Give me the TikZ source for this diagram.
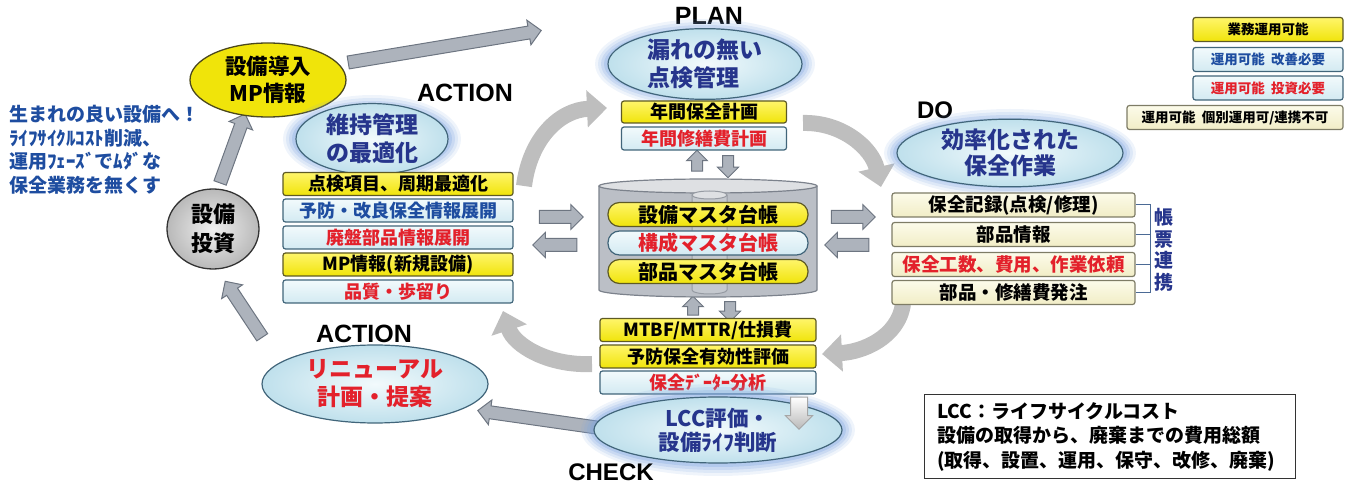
\documentclass[tikz,border=0pt]{standalone}
\usepackage{fontspec}
\setmainfont{Noto Sans CJK JP}
\newfontfamily\lat{Liberation Sans}
\usetikzlibrary{shapes.geometric,shapes.arrows,arrows.meta,calc}
\definecolor{yel}{HTML}{F0E40A}
\definecolor{yelt}{HTML}{FFF56A}
\definecolor{yeldk}{HTML}{5E5A24}
\definecolor{lb}{HTML}{D3EAF2}
\definecolor{lbt}{HTML}{F2FAFC}
\definecolor{lbdk}{HTML}{41657A}
\definecolor{cream}{HTML}{F1EDC6}
\definecolor{creamt}{HTML}{FCFBEA}
\definecolor{creamdk}{HTML}{7E7C66}
\definecolor{navy}{HTML}{26358C}
\definecolor{jred}{HTML}{E3212B}
\definecolor{bluet}{HTML}{1E4DA0}
\definecolor{arcg}{HTML}{BEBEBE}
\definecolor{arrf}{HTML}{ADB3BC}
\definecolor{arrd}{HTML}{6D7581}
\definecolor{glow}{HTML}{7FA6E0}
\definecolor{cylf}{HTML}{BBBFC6}
\definecolor{cylt}{HTML}{DEE0E3}
\definecolor{cyld}{HTML}{7C828C}
\definecolor{brk}{HTML}{4B6A95}
\definecolor{ellout}{HTML}{BFE0EC}
\newcommand\fsz[2]{\fontsize{#1pt}{#2pt}\selectfont}
\newcommand\blockarr[3][]{\path let \p1=($(#3)-(#2)$), \n1={atan2(\y1,\x1)}, \n2={veclen(\x1,\y1)} in node[barrow,#1,minimum height=\n2,rotate=\n1] at ($(#2)!0.5!(#3)$) {};}
\newcommand\halo[3]{\foreach \d/\o in {13/.12,10/.16,7/.22,4/.3}{\fill[glow,opacity=\o] (#1) ellipse [x radius=#2+\d, y radius=#3+\d];}}
\tikzset{
  bx/.style={rectangle, rounded corners=2.5pt, line width=1.2pt, inner sep=0pt, minimum height=23pt, font=\bfseries\fsz{18}{20}},
  yb/.style={bx, draw=yeldk, top color=yelt, bottom color=yel},
  lbx/.style={bx, draw=lbdk, top color=lbt, bottom color=lb},
  cb/.style={bx, draw=creamdk, top color=creamt, bottom color=cream, minimum height=24pt, font=\bfseries\fsz{18.5}{20}},
  pill/.style={rectangle, rounded corners=11.5pt, line width=1.2pt, inner sep=0pt, minimum width=200pt, minimum height=24pt, font=\bfseries\fsz{20}{20}},
  lgd/.style={bx, minimum height=24pt, font=\bfseries\fsz{13.5}{15}},
  ell/.style={ellipse, draw=lbdk, line width=1.2pt, inner sep=0pt, inner color=lbt, outer color=ellout, align=center, font=\bfseries\fsz{23}{28}},
  lbl/.style={inner sep=0pt, font=\lat\bfseries\fsz{25}{25}},
  barrow/.style={single arrow, draw=arrd, fill=arrf, line width=1pt, inner sep=0pt, text height=6pt, text depth=6pt, single arrow head extend=6pt, single arrow tip angle=90, minimum width=0pt},
  cyc/.style={draw=arcg, line width=16pt, -{Triangle[length=20pt,width=36pt]}},
}
\begin{document}
\begin{tikzpicture}[x=1pt,y=-1pt]
\useasboundingbox (0,0) rectangle (1353,486);

% ---- cycle arcs
\coordinate (a1s) at (524,186); \coordinate (a1e) at (607,108);
\coordinate (a2s) at (803,123); \coordinate (a2e) at (881,187);
\coordinate (a3s) at (903,304); \coordinate (a3e) at (822,354);
\coordinate (a4s) at (592,364); \coordinate (a4e) at (503,311);
\draw[cyc] (a1s) .. controls (530,138) and (560,110) .. (a1e);
\draw[cyc] (a2s) .. controls (842,122) and (872,148) .. (a2e);
\draw[cyc] (a3s) .. controls (898,338) and (862,352) .. (a3e);
\draw[cyc] (a4s) .. controls (548,366) and (514,345) .. (a4e);

% ---- straight block arrows
\coordinate (t1) at (345,63); \coordinate (h1) at (538,31);
\coordinate (t2) at (219,186); \coordinate (h2) at (244,117);
\coordinate (t3) at (264,340); \coordinate (h3) at (227,284);
\coordinate (t4) at (600,428); \coordinate (h4) at (481,411);
\blockarr{t1}{h1}
\blockarr{t2}{h2}
\blockarr{t3}{h3}
\blockarr{t4}{h4}
\coordinate (r1a) at (536,217); \coordinate (r1b) at (580,217);
\coordinate (r2a) at (580,245); \coordinate (r2b) at (536,245);
\coordinate (r3a) at (828,217); \coordinate (r3b) at (872,217);
\coordinate (r4a) at (872,245); \coordinate (r4b) at (828,245);
\blockarr{r1a}{r1b}
\blockarr{r2a}{r2b}
\blockarr{r3a}{r3b}
\blockarr{r4a}{r4b}
\coordinate (u1a) at (697,174); \coordinate (u1b) at (697,153);
\coordinate (d1a) at (728,153); \coordinate (d1b) at (728,175);
\coordinate (u2a) at (693,318); \coordinate (u2b) at (693,299);
\coordinate (d2a) at (730,299); \coordinate (d2b) at (730,319);
\blockarr[text height=5pt,text depth=5pt,single arrow head extend=5pt]{u1a}{u1b}
\blockarr[text height=5pt,text depth=5pt,single arrow head extend=5pt]{d1a}{d1b}
\blockarr[text height=5pt,text depth=5pt,single arrow head extend=5pt]{u2a}{u2b}
\blockarr[text height=5pt,text depth=5pt,single arrow head extend=5pt]{d2a}{d2b}

% ---- top-left: MP ellipse and investment
\node[ellipse, draw=yeldk!80!black, line width=1.3pt, fill=yel, minimum width=156pt, minimum height=74pt, inner sep=0pt, align=center, font=\bfseries\fsz{21.5}{27}] (mp) at (268,80) {設備導入\\MP情報};
\node[ellipse, draw=gray!40!black, line width=1.3pt, inner color=gray!12, outer color=gray!55, minimum width=92pt, minimum height=80pt, inner sep=0pt, align=center, font=\bfseries\fsz{22}{29}] (inv) at (213,229) {設備\\投資};
\node[anchor=north west, inner sep=0pt, align=left, text=bluet, font=\bfseries\fsz{19}{23.5}] (slogan) at (9,105) {生まれの良い設備へ！\\ﾗｲﾌｻｲｸﾙｺｽﾄ削減、\\運用ﾌｪｰｽﾞでﾑﾀﾞな\\保全業務を無くす};

% ---- ACTION (upper)
\node[lbl] (lact1) at (465,93) {ACTION};
\halo{372,139}{76}{31}
\node[ell, minimum width=152pt, minimum height=62pt, text=navy] (act1) at (372,139) {維持管理\\の最適化};
\node[yb, minimum width=230pt] (l1) at (398,184) {点検項目、周期最適化};
\node[lbx, minimum width=230pt, text=bluet] (l2) at (398,210.5) {予防・改良保全情報展開};
\node[lbx, minimum width=230pt, text=jred] (l3) at (398,237.5) {廃盤部品情報展開};
\node[yb, minimum width=230pt] (l4) at (398,264.5) {MP情報(新規設備)};
\node[lbx, minimum width=230pt, text=jred] (l5) at (398,291.5) {品質・歩留り};

% ---- ACTION (lower)
\node[lbl] (lact2) at (364,334) {ACTION};
\node[ell, minimum width=226pt, minimum height=78pt, text=jred] (renew) at (375,384) {リニューアル\\計画・提案};

% ---- PLAN
\node[lbl] (lplan) at (709,16) {PLAN};
\halo{705,64}{97}{32}
\node[ell, minimum width=194pt, minimum height=64pt, text=navy, align=left, font=\bfseries\fsz{23}{28}] (plan) at (705,64) {漏れの無い\\点検管理};
\node[yb, minimum width=165pt, minimum height=22pt] (p1) at (704,112) {年間保全計画};
\node[lbx, minimum width=165pt, text=jred] (p2) at (704,138.5) {年間修繕費計画};

% ---- cylinder
\fill[cylf] (599,186) -- (599,290) arc[start angle=180, end angle=0, x radius=109, y radius=7] -- (817,186) -- cycle;
\draw[cyld, line width=1.2pt] (599,186) -- (599,290) arc[start angle=180, end angle=0, x radius=109, y radius=7] -- (817,186);
\filldraw[fill=cylt, draw=cyld, line width=1.2pt] (708,186) ellipse [x radius=109, y radius=7];
\fill[cylf!85!white] (692,195) -- (692,290) arc[start angle=180, end angle=0, x radius=17.5, y radius=4] -- (727,195) -- cycle;
\draw[cyld!80!white, line width=1pt] (692,195) -- (692,290) arc[start angle=180, end angle=0, x radius=17.5, y radius=4] -- (727,195);
\filldraw[fill=cylt, draw=cyld!80!white, line width=1pt] (709.5,195) ellipse [x radius=17.5, y radius=4];
\node[pill, draw=yeldk, top color=yelt, bottom color=yel] (m1) at (708,214.5) {設備マスタ台帳};
\node[pill, draw=lbdk, top color=lbt, bottom color=lb, text=jred] (m2) at (708,243) {構成マスタ台帳};
\node[pill, draw=yeldk, top color=yelt, bottom color=yel] (m3) at (708,271.5) {部品マスタ台帳};

% ---- CHECK
\node[yb, minimum width=216pt] (c1) at (708,330) {MTBF/MTTR/仕損費};
\node[yb, minimum width=216pt] (c2) at (708,356.5) {予防保全有効性評価};
\node[lbx, minimum width=216pt, text=jred] (c3) at (708,382.5) {保全ﾃﾞｰﾀｰ分析};
\halo{718,430}{124}{33}
\node[ell, minimum width=248pt, minimum height=66pt, text=navy, font=\bfseries\fsz{21.5}{24}] (check) at (718,430) {LCC評価・\\設備ﾗｲﾌ判断};
\coordinate (da) at (799,393); \coordinate (db) at (799,425);
\blockarr[text height=8pt,text depth=8pt,single arrow head extend=5pt,top color=white,bottom color=gray!55,draw=gray!70]{da}{db}
\node[lbl, font=\lat\bfseries\fsz{24}{24}] (lcheck) at (611,472) {CHECK};

% ---- DO
\node[lbl, font=\lat\bfseries\fsz{24}{24}] (ldo) at (935,110) {DO};
\halo{1010,153}{113}{31}
\node[ell, minimum width=226pt, minimum height=62pt, text=navy, font=\bfseries\fsz{23}{26}] (do) at (1010,153) {効率化された\\保全作業};
\node[cb, minimum width=243pt] (d1) at (1013.5,205) {保全記録(点検/修理)};
\node[cb, minimum width=243pt] (d2) at (1013.5,234.5) {部品情報};
\node[cb, minimum width=243pt, text=jred] (d3) at (1013.5,264.5) {保全工数、費用、作業依頼};
\node[cb, minimum width=243pt] (d4) at (1013.5,292.5) {部品・修繕費発注};
\coordinate (bk1) at (1150,205);
\draw[brk, line width=1pt] (d1.east) -- (d1.east -| bk1) -- (d4.east -| bk1) -- (d4.east);
\draw[brk, line width=1pt] (d2.east) -- (d2.east -| bk1);
\draw[brk, line width=1pt] (d3.east) -- (d3.east -| bk1);
\node[fill=white, inner sep=1pt, align=center, text=navy, font=\bfseries\fsz{19}{21.5}] (form) at (1164,250) {帳\\票\\連\\携};

% ---- legend
\node[lgd, draw=yeldk, top color=yelt, bottom color=yel, minimum width=150pt] (g1) at (1268,29.5) {業務運用可能};
\node[lgd, draw=lbdk, top color=lbt, bottom color=lb, minimum width=150pt, text=bluet] (g2) at (1268,59.5) {運用可能\ \ 改善必要};
\node[lgd, draw=lbdk, top color=lbt, bottom color=lb, minimum width=150pt, text=jred] (g3) at (1268,88) {運用可能\ \ 投資必要};
\node[lgd, draw=creamdk, top color=creamt, bottom color=cream, minimum width=216pt] (g4) at (1235,117.5) {運用可能\ \ 個別運用可/連携不可};

% ---- LCC note
\node[draw=black!80, line width=1pt, minimum width=371pt, minimum height=83pt, inner xsep=13pt, text width=345pt, align=left, font=\bfseries\fsz{19}{24.5}] (note) at (1109.5,436.5) {LCC：ライフサイクルコスト\\設備の取得から、廃棄までの費用総額\\(取得、設置、運用、保守、改修、廃棄)};
\end{tikzpicture}
\end{document}
